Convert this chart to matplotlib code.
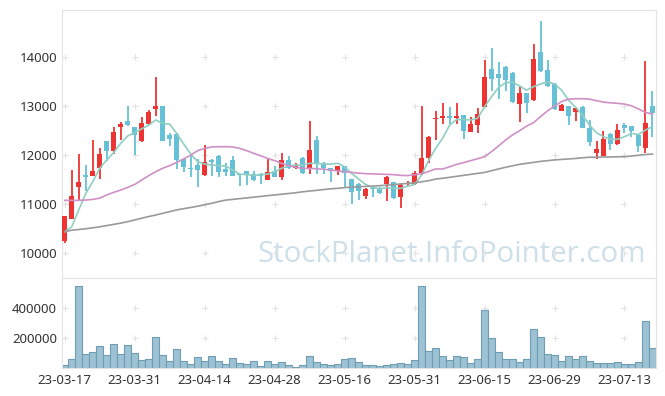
import numpy as np
import matplotlib
matplotlib.use("Agg")
import matplotlib.pyplot as plt

plt.rcParams['font.family'] = ['Noto Sans', 'DejaVu Sans']

# daily OHLC, 23-03-17 .. 23-07-19
opens = [10250, 10700, 11340, 11590, 11580, 11740, 12280, 12090, 12580, 12695,
         12570, 12285, 12640, 12945, 13000, 12410, 12430, 11915, 11740, 11790,
         11590, 11890, 11990, 11715, 11900, 11610, 11670, 11610, 11620, 11490,
         11670, 11560, 11900, 11740, 11945, 11740, 12300, 11840, 11730, 11680,
         11770, 11510, 11410, 11170, 11310, 11300, 11400, 11440, 11150, 11400,
         11400, 11630, 11930, 12730, 12750, 12795, 12750, 12810, 12480, 12620,
         12985, 13755, 13655, 13795, 13680, 13050, 13260, 13120, 14100, 13730,
         13460, 12905, 13000, 12870, 12985, 12555, 12035, 11985, 12430, 12220,
         12610, 12590, 12410, 12150, 13000]
highs = [10760, 11690, 12030, 11800, 12300, 12140, 12290, 12570, 12680, 13000,
         12580, 12770, 12920, 13590, 13010, 12450, 12440, 11940, 12030, 11910,
         12200, 11910, 12000, 11840, 11980, 11620, 11680, 11680, 11640, 11910,
         11780, 12035, 11990, 11830, 11950, 12690, 12380, 11850, 11740, 11780,
         11780, 11520, 11420, 11330, 11320, 11350, 11570, 11450, 11400, 11460,
         11680, 13000, 12390, 12890, 13060, 12985, 13060, 12820, 12770, 12970,
         13940, 14180, 13900, 13820, 13690, 13395, 13270, 14265, 14730, 13940,
         13470, 13040, 13010, 12990, 13000, 12715, 12290, 12490, 12440, 12635,
         12660, 12600, 12420, 13910, 13310]
lows = [10200, 10700, 11060, 11270, 11580, 11520, 11880, 12020, 12300, 12600,
        12000, 12270, 12620, 12790, 12280, 12190, 11710, 11650, 11560, 11340,
        11570, 11570, 11560, 11570, 11570, 11370, 11380, 11460, 11400, 11490,
        11550, 11490, 11720, 11710, 11620, 11610, 11610, 11610, 11440, 11590,
        11350, 11000, 11080, 11100, 11140, 11200, 11060, 11110, 10910, 11370,
        11390, 11590, 11830, 12300, 12630, 12640, 12630, 12330, 12470, 12440,
        12980, 13300, 13140, 13310, 13070, 12680, 12850, 13110, 13700, 13380,
        12920, 12900, 12620, 12700, 12545, 12185, 11925, 11980, 12095, 12210,
        12455, 12375, 12070, 12035, 12375]
closes = [10750, 11160, 11450, 11550, 11670, 12030, 12090, 12460, 12630, 12610,
          12410, 12645, 12870, 13000, 12290, 12335, 11900, 11760, 11720, 11700,
          11850, 11860, 11660, 11655, 11580, 11600, 11590, 11490, 11580, 11645,
          11560, 11900, 11730, 11800, 11630, 12100, 11830, 11740, 11680, 11770,
          11640, 11250, 11270, 11300, 11300, 11230, 11560, 11120, 11380, 11410,
          11630, 11930, 12360, 12755, 12790, 12750, 12790, 12500, 12625, 12835,
          13590, 13550, 13570, 13530, 13080, 13260, 13070, 13960, 13710, 13400,
          12940, 13015, 12800, 12970, 12560, 12270, 12115, 12325, 12220, 12510,
          12555, 12500, 12190, 12655, 12850]
volumes = [22000, 60000, 548000, 93000, 107000, 147000, 87000, 160000, 93000, 153000,
           100000, 53000, 60000, 207000, 87000, 47000, 127000, 47000, 27000, 73000,
           47000, 80000, 47000, 27000, 67000, 33000, 27000, 47000, 13000, 47000,
           27000, 40000, 20000, 11000, 20000, 80000, 40000, 27000, 20000, 27000,
           60000, 67000, 40000, 20000, 20000, 13000, 20000, 27000, 33000, 27000,
           53000, 548000, 113000, 133000, 80000, 53000, 80000, 73000, 33000, 60000,
           387000, 200000, 107000, 60000, 60000, 40000, 60000, 260000, 207000, 93000,
           87000, 47000, 80000, 60000, 80000, 47000, 33000, 33000, 33000, 40000,
           27000, 27000, 40000, 313000, 133000]

# moving averages as drawn in the picture
ma5 = [10435, 10535, 10880, 11215, 11455, 11730, 11900, 12050, 12240, 12390,
       12455, 12535, 12610, 12715, 12645, 12630, 12440, 12225, 12020, 11865,
       11815, 11795, 11785, 11775, 11695, 11610, 11600, 11580, 11600, 11610,
       11660, 11730, 11775, 11795, 11795, 11830, 11830, 11815, 11815, 11830,
       11760, 11625, 11510, 11400, 11340, 11310, 11335, 11320, 11320, 11365,
       11400, 11590, 11885, 12135, 12340, 12610, 12725, 12725, 12715, 12750,
       12985, 13190, 13380, 13475, 13490, 13410, 13325, 13395, 13450, 13490,
       13450, 13325, 13120, 12975, 12815, 12610, 12455, 12375, 12320, 12320,
       12375, 12440, 12420, 12510, 12580]
ma20 = [11075, 11075, 11075, 11080, 11095, 11120, 11185, 11240, 11285, 11340,
        11400, 11490, 11580, 11660, 11730, 11785, 11850, 11920, 12000, 12090,
        12135, 12165, 12170, 12170, 12165, 12135, 12090, 12035, 11985, 11930,
        11885, 11830, 11785, 11750, 11730, 11725, 11720, 11710, 11695, 11675,
        11660, 11645, 11630, 11620, 11615, 11610, 11605, 11600, 11585, 11580,
        11600, 11615, 11665, 11715, 11715, 11760, 11810, 11845, 11885, 11925,
        11965, 12070, 12185, 12305, 12410, 12495, 12590, 12660, 12785, 12900,
        13000, 13090, 13140, 13150, 13150, 13140, 13110, 13080, 13065, 13055,
        13040, 13005, 12940, 12870, 12835]
ma60 = [10435, 10465, 10480, 10495, 10515, 10535, 10560, 10585, 10610, 10640,
        10675, 10710, 10745, 10775, 10810, 10845, 10880, 10905, 10930, 10955,
        10985, 11015, 11050, 11080, 11095, 11110, 11125, 11140, 11155, 11170,
        11185, 11200, 11215, 11230, 11250, 11265, 11280, 11295, 11310, 11320,
        11335, 11345, 11350, 11360, 11365, 11375, 11385, 11395, 11410, 11420,
        11435, 11455, 11475, 11510, 11525, 11545, 11565, 11585, 11605, 11625,
        11645, 11680, 11715, 11750, 11780, 11810, 11830, 11850, 11870, 11885,
        11900, 11910, 11920, 11930, 11945, 11955, 11955, 11960, 11960, 11965,
        11965, 11980, 11995, 12010, 12020]

tick_pos = [0, 10, 20, 30, 40, 50, 60, 70, 80]
tick_labels = ["23-03-17", "23-03-31", "23-04-14", "23-04-28", "23-05-16",
               "23-05-31", "23-06-15", "23-06-29", "23-07-13"]
price_ticks = [10000, 11000, 12000, 13000, 14000]
vol_ticks = [200000, 400000]

o = np.array(opens); h = np.array(highs); l = np.array(lows); c = np.array(closes)
x = np.arange(len(o))
up = c >= o
col = np.where(up, '#ee3333', '#66c0d6')

fig = plt.figure(figsize=(6.65, 3.96), dpi=100)
ax = fig.add_axes([0.0932, 0.298, 0.8928, 0.6767])
axv = fig.add_axes([0.0932, 0.070, 0.8928, 0.228], sharex=ax)

border = '#e3e3e3'
txt = '#333333'
for a in (ax, axv):
    for s in a.spines.values():
        s.set_color(border)
    a.tick_params(length=0, labelsize=9.5, colors=txt)

# watermark
ax.text(0.656, 0.088, "StockPlanet.InfoPointer.com", transform=ax.transAxes,
        ha='center', va='center', fontsize=21.2, color='#cddfe9', zorder=0,
        family=['Open Sans', 'DejaVu Sans'])

# grid crosses
gx, gy = np.meshgrid(tick_pos, price_ticks)
ax.scatter(gx.ravel(), gy.ravel(), marker='+', s=20, color='#e2e2e2', lw=0.8, zorder=0)
gx2, gy2 = np.meshgrid(tick_pos, vol_ticks)
axv.scatter(gx2.ravel(), gy2.ravel(), marker='+', s=20, color='#e2e2e2', lw=0.8, zorder=0)

# candles
ax.vlines(x, l, h, colors=col, lw=1.3, zorder=2)
body = np.maximum(np.abs(c - o), 18)
ax.bar(x, body, bottom=np.minimum(o, c), width=0.72, color=col, zorder=3)

ax.plot(x, ma5, color='#8fcfc2', lw=1.2, zorder=4)
ax.plot(x, ma20, color='#cf90c6', lw=1.2, zorder=4)
ax.plot(x, ma60, color='#9a9a9a', lw=1.2, zorder=4)

ax.set_ylim(9490, 14960)
ax.set_yticks(price_ticks)
ax.set_xlim(-0.4, 84.46)
plt.setp(ax.get_xticklabels(), visible=False)

axv.bar(x, volumes, width=1.0, color='#9cc2d3', edgecolor='#6e9db4', lw=0.8, zorder=2)
axv.set_ylim(0, 602000)
axv.set_yticks(vol_ticks)
axv.set_yticklabels([str(v) for v in vol_ticks])
axv.set_xticks(tick_pos)
axv.set_xticklabels(tick_labels)
axv.tick_params(axis='x', pad=4)

fig.savefig("out.png", dpi=100)
